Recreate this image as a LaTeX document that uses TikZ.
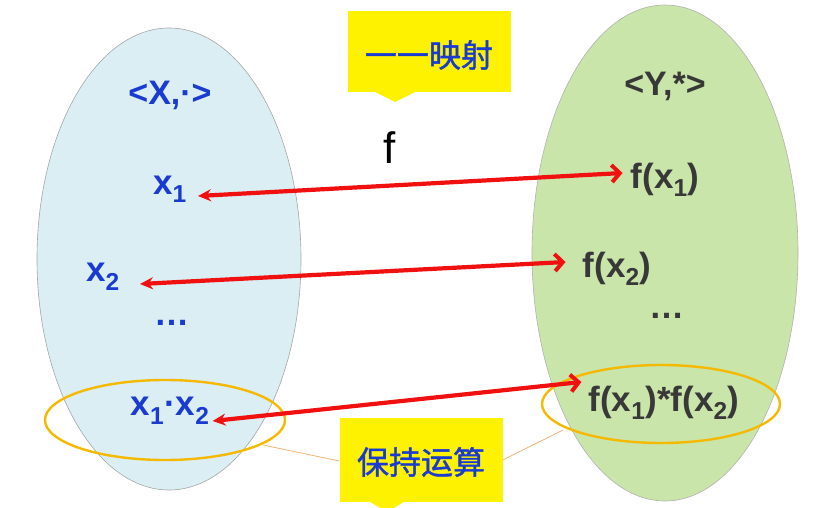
\documentclass[tikz,border=0pt]{standalone}
\usepackage{fontspec}
\setmainfont{Liberation Sans}
\newfontfamily\cjk[FakeBold=1.2]{Noto Sans CJK SC}
\usetikzlibrary{arrows.meta}
\definecolor{lblue}{HTML}{DAEEF3}
\definecolor{lgreen}{HTML}{C9E5A9}
\definecolor{tblue}{HTML}{1A3BD1}
\definecolor{tgray}{HTML}{383838}
\definecolor{oring}{HTML}{F5BA00}
\definecolor{othin}{HTML}{F0B478}
\definecolor{arrred}{HTML}{F01010}
\begin{document}
\begin{tikzpicture}[x=1pt,y=-1pt,
  lt/.style={font=\fontsize{35}{38}\selectfont\bfseries, text=tblue, inner sep=0pt},
  rt/.style={font=\fontsize{35}{38}\selectfont\bfseries, text=tgray, inner sep=0pt},
  maparrow/.style={draw=arrred, line width=4.2pt, {Stealth[length=13pt,width=12pt]}-{Straight Barb[length=8pt,width=17pt,line width=4pt]}},
  callout/.style={fill=yellow, minimum width=163pt, inner sep=0pt},
  ctext/.style={font=\cjk\fontsize{32}{36}\selectfont, text=tblue},
  ring/.style={draw=oring, line width=2.4pt},
  thin/.style={draw=othin, line width=0.8pt}]
\useasboundingbox (0,0) rectangle (814,508);
% sets
\draw[fill=lblue, draw=gray!70, line width=0.6pt] (169,259) ellipse [x radius=132, y radius=231];
\draw[fill=lgreen, draw=gray!60, line width=0.6pt] (665,253) ellipse [x radius=133, y radius=248];
% callouts
\node[callout, minimum height=81pt] (c1) at (429,52) {};
\fill[yellow] (375,92) -- (395,102) -- (415,92) -- cycle;
\node[ctext] (t1) at (429,55) {一一映射};
\node[callout, minimum height=84pt] (c2) at (421,460) {};
\fill[yellow] (367,500) -- (387,512) -- (407,500) -- cycle;
\node[ctext] (t2) at (421,462) {保持运算};
% rings
\draw[ring] (165,420) ellipse [x radius=120, y radius=40];
\draw[ring] (661,404) ellipse [x radius=119, y radius=39];
\coordinate (rla) at (263,445);
\coordinate (rra) at (563,430);
\draw[thin] (rla) -- (c2.west |- 0,461);
\draw[thin] (rra) -- (c2.east |- 0,460);
% labels
\node[lt, font=\fontsize{34}{38}\selectfont\bfseries] (X) at (170,95) {<X,·>};
\node[rt, font=\fontsize{34}{38}\selectfont\bfseries] (Y) at (665,86) {<Y,*>};
\node[inner sep=0pt, font=\fontsize{44}{48}\selectfont] (f) at (390,148) {f};
\node[lt] (x1) at (170,189) {x\textsubscript{1}};
\node[lt] (x2) at (103,277) {x\textsubscript{2}};
\node[lt] (ld) at (172,323) {…};
\node[lt] (x12) at (170,411) {x\textsubscript{1}·x\textsubscript{2}};
\node[rt] (fx1) at (665,180) {f(x\textsubscript{1})};
\node[rt] (fx2) at (617,269) {f(x\textsubscript{2})};
\node[rt] (rd) at (667,316) {…};
\node[rt] (fx12) at (664,403) {f(x\textsubscript{1})*f(x\textsubscript{2})};
% arrows
\draw[maparrow] ([xshift=11pt,yshift=-7pt]x1.east) -- ([xshift=-8pt,yshift=7pt]fx1.west);
\draw[maparrow] ([xshift=20pt,yshift=-7pt]x2.east) -- ([xshift=-17pt,yshift=7pt]fx2.west);
\draw[maparrow] ([xshift=3pt,yshift=-10pt]x12.east) -- ([xshift=-7pt,yshift=21pt]fx12.west);
\end{tikzpicture}
\end{document}
